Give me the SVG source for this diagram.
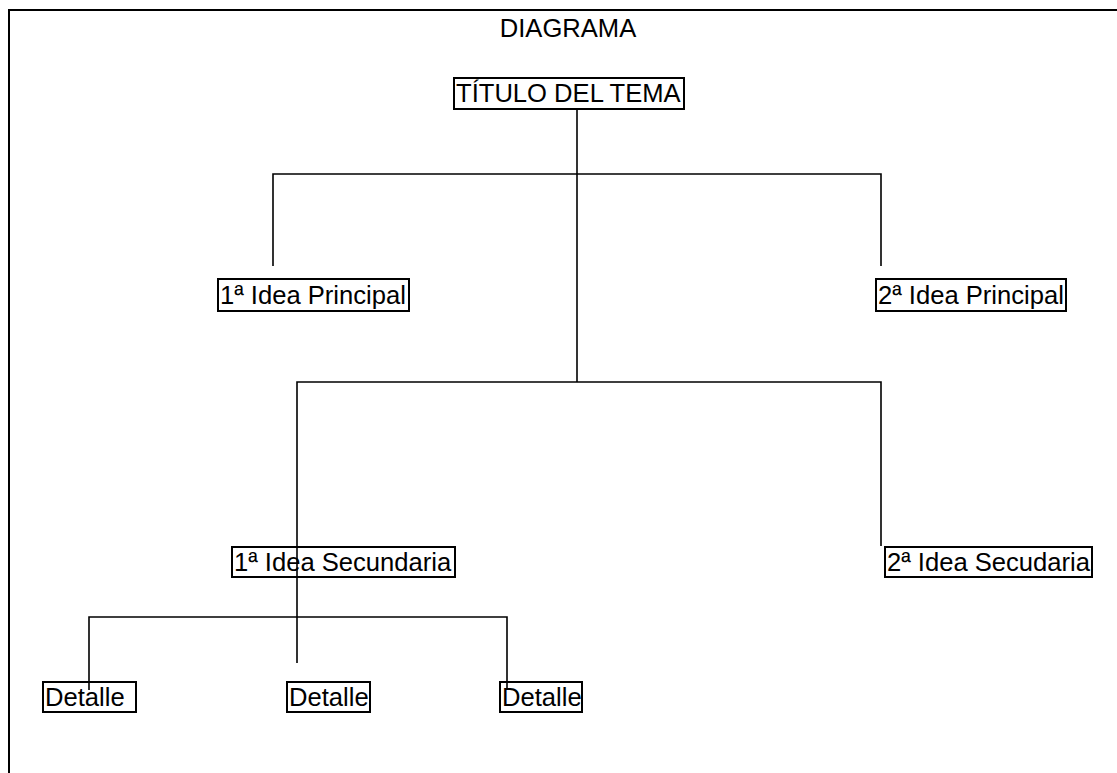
<svg xmlns="http://www.w3.org/2000/svg" width="1117" height="773" viewBox="0 0 1117 773">
<style>
.frame{fill:none;stroke:#000;stroke-width:2}
.box{fill:#fff;stroke:#000;stroke-width:2}
.lbl{font-family:"Liberation Sans",Arial,sans-serif;font-size:25.6px;fill:#000}
.ln{fill:none;stroke:#000;stroke-width:1.6}
</style>
<rect width="1117" height="773" fill="#fff"/>
<path class="frame" d="M9,780 V10 H1125"/>
<text class="lbl" x="568" y="37" text-anchor="middle">DIAGRAMA</text>
<g id="connectors">
<path class="ln" d="M577,109 V382"/>
<path class="ln" d="M273,266 V174 H881 V266"/>
<path class="ln" d="M297,663 V382 H881 V546"/>
<path class="ln" d="M89,690 V617 H507 V690"/>
</g>
<g id="titulo"><rect class="box" x="454" y="78" width="230" height="31" fill-opacity="0"/><text class="lbl" x="456" y="102">TÍTULO DEL TEMA</text></g>
<g id="idea1"><rect class="box" x="218" y="279" width="191" height="32"/><text class="lbl" x="220" y="304">1ª Idea Principal</text></g>
<g id="idea2"><rect class="box" x="876" y="279" width="190" height="32"/><text class="lbl" x="878" y="304">2ª Idea Principal</text></g>
<g id="sec1"><rect class="box" x="232" y="547" width="223" height="30" fill-opacity="0"/><text class="lbl" x="234" y="571">1ª Idea Secundaria</text></g>
<g id="sec2"><rect class="box" x="885" y="547" width="207" height="30"/><text class="lbl" x="887" y="571">2ª Idea Secudaria</text></g>
<g id="det1"><rect class="box" x="43" y="682" width="93" height="30" fill-opacity="0"/><text class="lbl" x="45" y="706">Detalle</text></g>
<g id="det2"><rect class="box" x="287" y="682" width="83" height="30"/><text class="lbl" x="289" y="706">Detalle</text></g>
<g id="det3"><rect class="box" x="500" y="682" width="82" height="30" fill-opacity="0"/><text class="lbl" x="502" y="706">Detalle</text></g>
</svg>
